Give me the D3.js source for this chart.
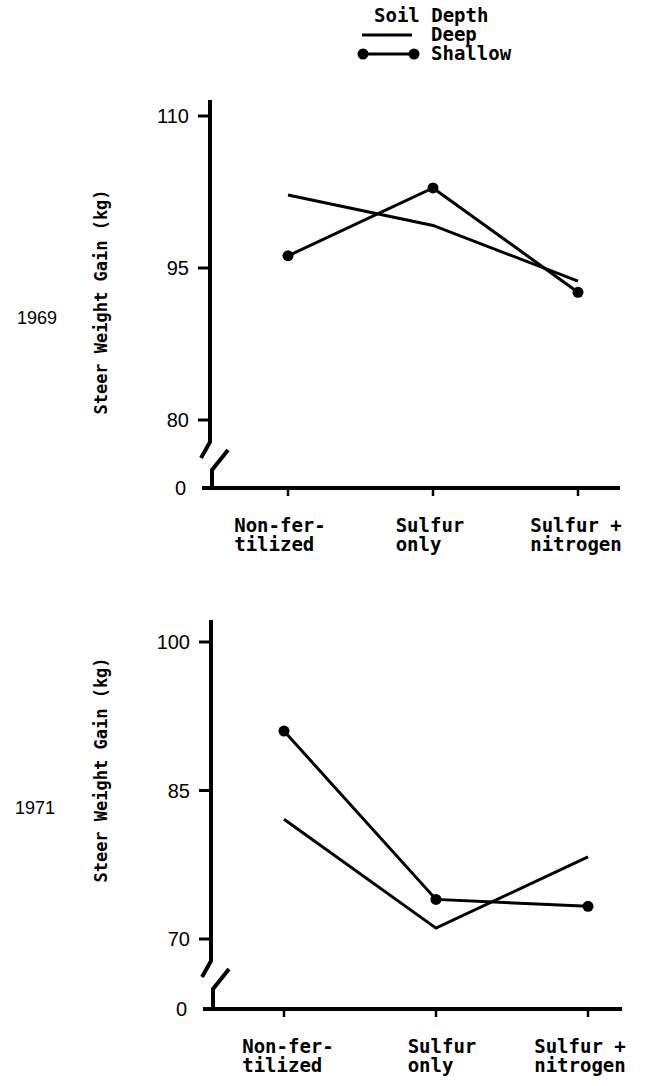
<!DOCTYPE html>
<html>
<head>
<meta charset="utf-8">
<script src="https://d3js.org/d3.v7.min.js"></script>
<style>
  body { margin: 0; background: #fff; }
  text { fill: #000; }
  .mono { font-family: "DejaVu Sans Mono", monospace; font-weight: bold; font-size: 19px; }
  .title { font-family: "DejaVu Sans Mono", monospace; font-weight: bold; font-size: 17px; }
  .num { font-family: "Liberation Sans", Arial, sans-serif; font-size: 20px; }
</style>
</head>
<body>
<div id="chart"></div>
<script>
// chart data
var categories = [["Non-fer-", "tilized"], ["Sulfur", "only"], ["Sulfur +", "nitrogen"]];
var deep1969 = [102.2, 99.2, 93.7];
var shallow1969 = [96.2, 102.9, 92.6];
var deep1971 = [82.1, 71.1, 78.3];
var shallow1971 = [91.0, 74.0, 73.3];
var ticks1969 = [80, 95, 110];
var ticks1971 = [70, 85, 100];

var W = 656, H = 1086;

var svg = d3.select("#chart")
    .append("svg")
    .attr("width", W)
    .attr("height", H);

// legend
var leg = svg.append("g");
leg.append("text").attr("class", "mono").attr("x", 374).attr("y", 22).text("Soil Depth");
leg.append("line").attr("x1", 362).attr("x2", 412).attr("y1", 35).attr("y2", 35)
    .attr("stroke", "#000").attr("stroke-width", 3);
leg.append("text").attr("class", "mono").attr("x", 431).attr("y", 41).text("Deep");
leg.append("line").attr("x1", 363).attr("x2", 414).attr("y1", 54).attr("y2", 54)
    .attr("stroke", "#000").attr("stroke-width", 3);
leg.selectAll("circle").data([363, 414]).enter().append("circle")
    .attr("cx", function(d) { return d; }).attr("cy", 54).attr("r", 5.5).attr("fill", "#000");
leg.append("text").attr("class", "mono").attr("x", 431).attr("y", 60).text("Shallow");

function drawPanel(p) {
    var g = svg.append("g");

    var x = d3.scalePoint()
        .domain(d3.range(categories.length))
        .range(p.xRange);
    var y = d3.scaleLinear()
        .domain([p.ticks[0], p.ticks[p.ticks.length - 1]])
        .range(p.yRange);

    var yb = y(p.ticks[0]);
    var ax = p.axisX;

    // y axis with break
    g.append("path")
        .attr("d", "M" + ax + "," + p.axisTop + "L" + ax + "," + (yb + 22) + "L" + (ax - 9) + "," + (yb + 38))
        .attr("fill", "none").attr("stroke", "#000").attr("stroke-width", 4);
    g.append("path")
        .attr("d", "M" + (ax + 18) + "," + (yb + 30) + "L" + (ax + 2) + "," + (yb + 50) + "L" + (ax + 2) + "," + p.zeroY)
        .attr("fill", "none").attr("stroke", "#000").attr("stroke-width", 4);

    // y ticks
    g.selectAll(".yt").data(p.ticks).enter().append("line")
        .attr("x1", ax - 12).attr("x2", ax)
        .attr("y1", function(d) { return y(d); })
        .attr("y2", function(d) { return y(d); })
        .attr("stroke", "#000").attr("stroke-width", 3);
    g.selectAll(".yl").data(p.ticks).enter().append("text")
        .attr("class", "num")
        .attr("x", ax - 21)
        .attr("y", function(d) { return y(d); })
        .attr("dy", "0.36em")
        .attr("text-anchor", "end")
        .text(function(d) { return d; });
    g.append("text").attr("class", "num")
        .attr("x", ax - 24).attr("y", p.zeroY).attr("dy", "0.36em")
        .attr("text-anchor", "end").text("0");

    // x axis at zero
    g.append("line")
        .attr("x1", ax - 8).attr("x2", p.xEnd)
        .attr("y1", p.zeroY).attr("y2", p.zeroY)
        .attr("stroke", "#000").attr("stroke-width", 4);
    g.selectAll(".xt").data(d3.range(categories.length)).enter().append("line")
        .attr("x1", function(d) { return x(d); })
        .attr("x2", function(d) { return x(d); })
        .attr("y1", p.zeroY).attr("y2", p.zeroY + 8)
        .attr("stroke", "#000").attr("stroke-width", 2.5);

    // category labels, block centred near tick, lines left aligned
    categories.forEach(function(lines, i) {
        var t = g.append("text").attr("class", "mono");
        lines.forEach(function(s, k) {
            t.append("tspan").attr("x", 0).attr("y", p.zeroY + 44 + k * 19).text(s);
        });
        var w = t.node().getBBox().width;
        t.selectAll("tspan").attr("x", x(i) + p.labelShift[i] - w / 2);
    });

    // axis title and year
    g.append("text").attr("class", "title")
        .attr("transform", "translate(" + p.titleX + "," + p.titleY + ") rotate(-90)")
        .attr("text-anchor", "middle")
        .attr("dy", "0.35em")
        .text("Steer Weight Gain (kg)");
    g.append("text").attr("class", "num")
        .attr("x", p.yearX).attr("y", p.yearY).attr("dy", "0.36em")
        .attr("text-anchor", "middle")
        .style("font-size", "18px")
        .text(p.year);

    // data lines
    var line = d3.line()
        .x(function(d, i) { return x(i); })
        .y(function(d) { return y(d); });

    g.append("path").datum(p.deep)
        .attr("d", line)
        .attr("fill", "none").attr("stroke", "#000").attr("stroke-width", 3);
    g.append("path").datum(p.shallow)
        .attr("d", line)
        .attr("fill", "none").attr("stroke", "#000").attr("stroke-width", 3);
    g.selectAll(".dot").data(p.shallow).enter().append("circle")
        .attr("cx", function(d, i) { return x(i); })
        .attr("cy", function(d) { return y(d); })
        .attr("r", 5.5)
        .attr("fill", "#000");
}

drawPanel({
    year: "1969", ticks: ticks1969, deep: deep1969, shallow: shallow1969,
    yRange: [420, 116], axisX: 210, axisTop: 100, zeroY: 488,
    xRange: [288, 578], xEnd: 620, labelShift: [-8, -3, -2],
    titleX: 101, titleY: 302, yearX: 37, yearY: 318
});

drawPanel({
    year: "1971", ticks: ticks1971, deep: deep1971, shallow: shallow1971,
    yRange: [939, 642], axisX: 211, axisTop: 620, zeroY: 1009,
    xRange: [284, 588], xEnd: 622, labelShift: [4, 6, -8],
    titleX: 101, titleY: 770, yearX: 35, yearY: 808
});
</script>
</body>
</html>
